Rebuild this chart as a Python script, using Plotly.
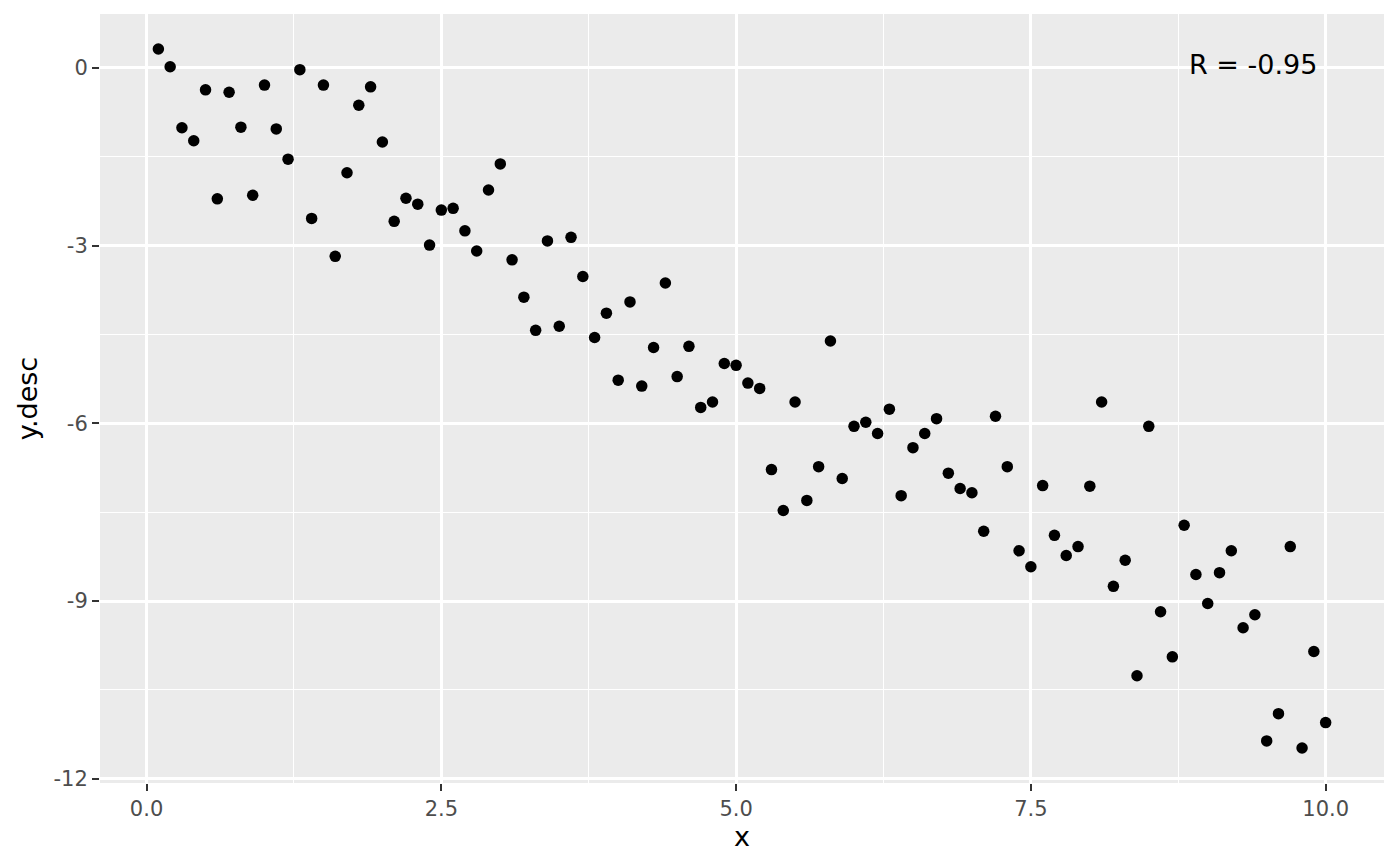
import plotly.graph_objects as go

x_vals = [round(0.1 * i, 1) for i in range(1, 101)]
y_vals = [
    0.32, 0.02, -1.01, -1.23, -0.37, -2.21, -0.41, -1.00, -2.15, -0.29,
    -1.03, -1.54, -0.03, -2.54, -0.29, -3.18, -1.77, -0.63, -0.32, -1.25,
    -2.59, -2.20, -2.30, -2.99, -2.40, -2.37, -2.75, -3.09, -2.06, -1.62,
    -3.24, -3.87, -4.43, -2.92, -4.36, -2.86, -3.52, -4.55, -4.14, -5.27,
    -3.95, -5.37, -4.72, -3.63, -5.21, -4.70, -5.73, -5.64, -4.99, -5.02,
    -5.32, -5.41, -6.78, -7.47, -5.64, -7.30, -6.73, -4.61, -6.93, -6.05,
    -5.98, -6.17, -5.76, -7.22, -6.41, -6.17, -5.92, -6.84, -7.10, -7.17,
    -7.82, -5.88, -6.73, -8.15, -8.42, -7.05, -7.89, -8.23, -8.08, -7.06,
    -5.64, -8.75, -8.31, -10.26, -6.05, -9.18, -9.94, -7.72, -8.55, -9.04,
    -8.52, -8.15, -9.45, -9.23, -11.36, -10.90, -8.08, -11.48, -9.85, -11.05,
]
x_ticks = [0.0, 2.5, 5.0, 7.5, 10.0]
x_tick_labels = ["0.0", "2.5", "5.0", "7.5", "10.0"]
x_minor = [1.25, 3.75, 6.25, 8.75]
y_ticks = [-12, -9, -6, -3, 0]
y_tick_labels = ["-12", "-9", "-6", "-3", "0"]
y_minor = [-10.5, -7.5, -4.5, -1.5]
annotation_text = "R = -0.95"

FONT = "DejaVu Sans"

fig = go.Figure()
fig.add_trace(go.Scatter(
    x=x_vals, y=y_vals, mode="markers",
    marker=dict(color="black", size=11.5, line=dict(width=0)),
    showlegend=False, hoverinfo="x+y",
))

fig.add_annotation(
    x=9.385, y=0.05, text=annotation_text, showarrow=False,
    font=dict(family=FONT, size=27, color="black"),
    xanchor="center", yanchor="middle",
)

axis_common = dict(
    showline=False, zeroline=False,
    gridcolor="white", gridwidth=2.6,
    ticks="outside", ticklen=7, tickwidth=2.4, tickcolor="#333333",
    tickfont=dict(family=FONT, size=21, color="#4D4D4D"),
)

fig.update_xaxes(
    range=[-0.395, 10.495],
    tickvals=x_ticks, ticktext=x_tick_labels,
    title=dict(text="x", font=dict(family=FONT, size=27, color="black"), standoff=4),
    minor=dict(tickvals=x_minor, showgrid=True, gridcolor="white", gridwidth=1.3, ticks=""),
    **axis_common,
)
fig.update_yaxes(
    range=[-12.07, 0.91],
    tickvals=y_ticks, ticktext=y_tick_labels,
    title=dict(text="y.desc", font=dict(family=FONT, size=27, color="black"), standoff=8),
    minor=dict(tickvals=y_minor, showgrid=True, gridcolor="white", gridwidth=1.3, ticks=""),
    **axis_common,
)

fig.update_layout(
    width=1384, height=850,
    margin=dict(l=92, r=8, t=6, b=75),
    plot_bgcolor="#EBEBEB", paper_bgcolor="white",
    font=dict(family=FONT),
)

fig.write_html("out.html")
